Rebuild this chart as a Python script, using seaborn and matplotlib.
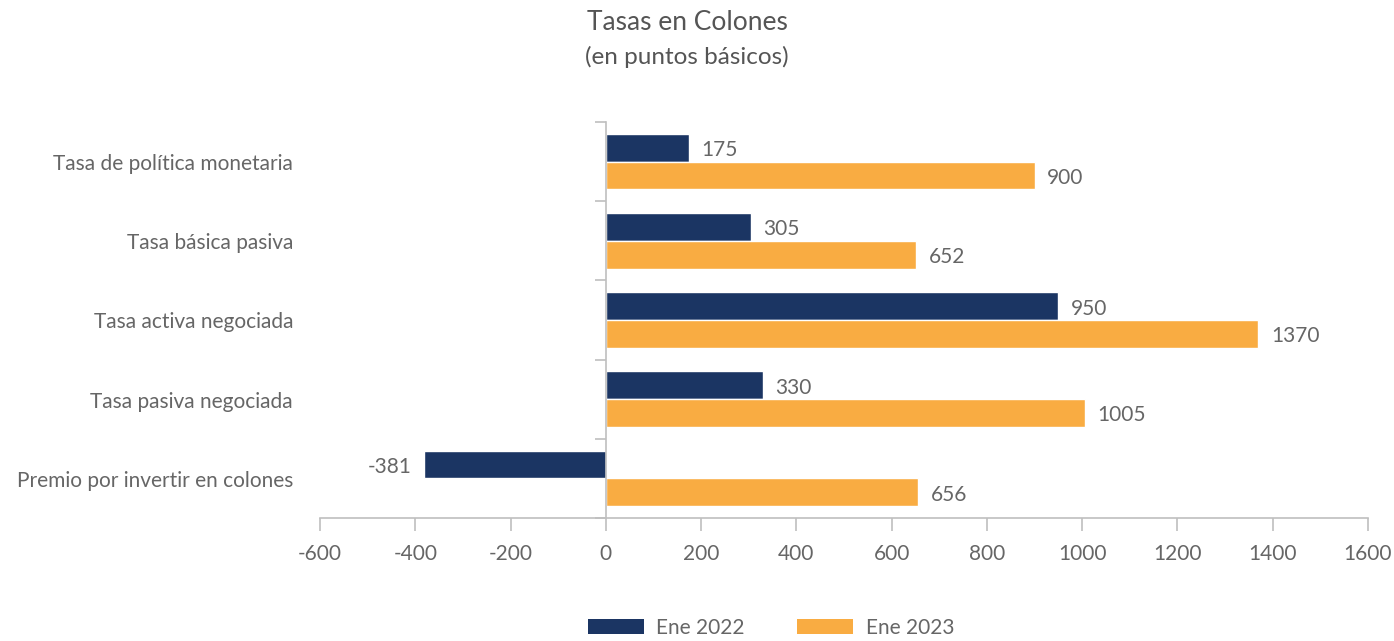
import matplotlib
matplotlib.use("Agg")
import matplotlib.pyplot as plt
import matplotlib.patches as mpatches
import matplotlib.transforms as mtransforms
import seaborn as sns
import pandas as pd

categories = ["Tasa de política monetaria", "Tasa básica pasiva", "Tasa activa negociada",
              "Tasa pasiva negociada", "Premio por invertir en colones"]
ene_2022 = [175, 305, 950, 330, -381]
ene_2023 = [900, 652, 1370, 1005, 656]
series_names = ["Ene 2022", "Ene 2023"]
x_ticks = [-600, -400, -200, 0, 200, 400, 600, 800, 1000, 1200, 1400, 1600]

title = "Tasas en Colones"
subtitle = "(en puntos básicos)"

colors = ["#1b3563", "#f9ac42"]
text_color = "#666666"
spine_color = "#bfbfbf"

df = pd.DataFrame({
    "categoria": categories * 2,
    "valor": ene_2022 + ene_2023,
    "serie": [series_names[0]] * len(categories) + [series_names[1]] * len(categories),
})

sns.set_theme(style="white")
plt.rcParams["font.family"] = ["Lato", "DejaVu Sans"]

W, H = 1394, 641
fig = plt.figure(figsize=(W / 100, H / 100), dpi=100)
ax = fig.add_axes([320 / W, 1 - 518 / H, (1368 - 320) / W, (518 - 122) / H])

sns.barplot(data=df, y="categoria", x="valor", hue="serie", order=categories,
            hue_order=series_names, palette=colors, orient="h", width=0.7,
            saturation=1, legend=False, ax=ax)

ax.set_xlim(-600, 1600)
ax.set_ylim(len(categories) - 0.5, -0.5)
ax.set_xticks(x_ticks)
ax.set_xticklabels([str(t) for t in x_ticks])
ax.set_xlabel("")
ax.set_ylabel("")

# y-axis spine at zero with ticks at category boundaries
for s in ["top", "right"]:
    ax.spines[s].set_visible(False)
ax.spines["left"].set_position(("data", 0))
ax.spines["left"].set_color(spine_color)
ax.spines["bottom"].set_color(spine_color)
ax.spines["left"].set_linewidth(1.2)
ax.spines["bottom"].set_linewidth(1.2)
ax.set_yticks([i - 0.5 for i in range(len(categories) + 1)])
ax.set_yticklabels([])
ax.tick_params(axis="y", direction="out", length=8, color=spine_color, width=1.2, left=True)
ax.tick_params(axis="x", direction="out", length=9, color=spine_color, width=1.2, bottom=True,
               labelsize=15, labelcolor=text_color, pad=10)

trans = mtransforms.blended_transform_factory(ax.transAxes, ax.transData)
for i, c in enumerate(categories):
    ax.text(-27 / (1368 - 320), i + 0.03, c, transform=trans, ha="right", va="center",
            fontsize=15, color=text_color)

for cont in ax.containers:
    labels = ax.bar_label(cont, fmt="%d", padding=9, fontsize=15, color=text_color)
    for t in labels:
        t.set_va("center")
        x, y = t.xy
        t.xy = (x, y + 0.03)

fig.text(687 / W, 1 - 23 / H, title, ha="center", va="center", fontsize=19, color="#555555")
fig.text(687 / W, 1 - 57 / H, subtitle, ha="center", va="center", fontsize=17.5, color="#555555")

handles = [mpatches.Patch(facecolor=colors[0], edgecolor="none"),
           mpatches.Patch(facecolor=colors[1], edgecolor="none")]
fig.legend(handles, series_names, loc="center", bbox_to_anchor=(771 / W, 1 - 628 / H),
           ncol=2, frameon=False, fontsize=15, labelcolor=text_color,
           handlelength=2.7, handleheight=0.7, columnspacing=2.5, handletextpad=0.6)

fig.savefig("out.png", dpi=100)
